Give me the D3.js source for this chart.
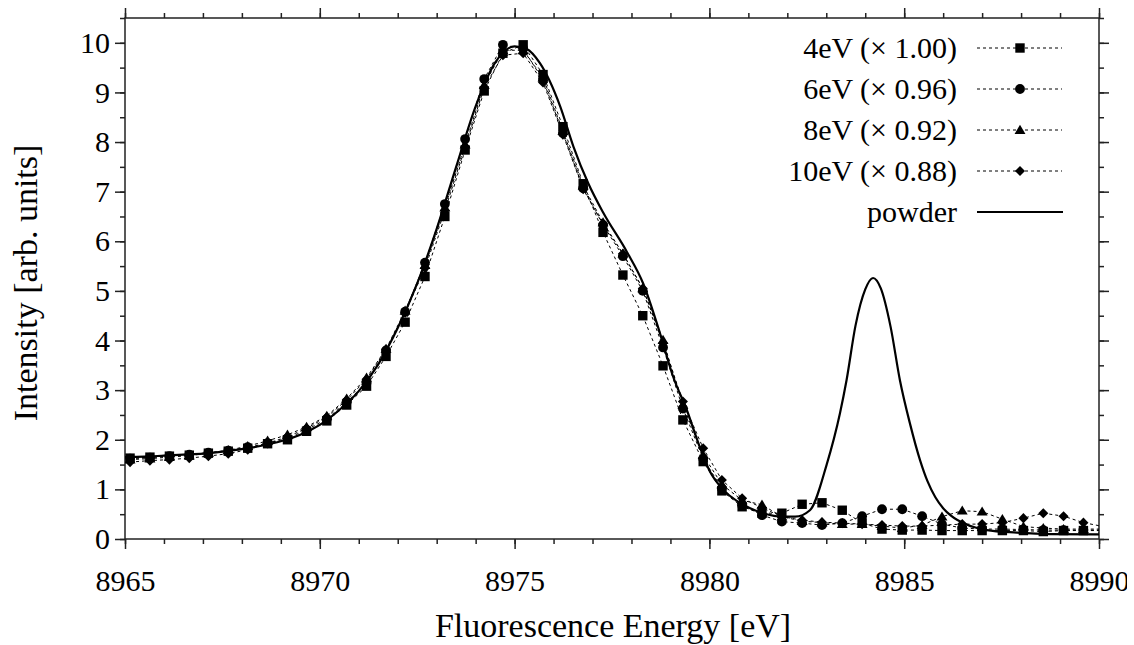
<!DOCTYPE html>
<html>
<head>
<meta charset="utf-8">
<script src="https://cdn.jsdelivr.net/npm/d3@7"></script>
<style>
  body { margin: 0; background: #fff; }
  svg { display: block; }
</style>
</head>
<body>
<svg id="chart" width="1134" height="645"></svg>
<script>
// Measured emission energies (eV), shared by all four excitation series
const energies = [8965.13, 8965.64, 8966.14, 8966.65, 8967.14, 8967.65, 8968.15, 8968.66, 8969.17, 8969.66,
  8970.18, 8970.69, 8971.20, 8971.70, 8972.19, 8972.70, 8973.21, 8973.73, 8974.22, 8974.70,
  8975.22, 8975.73, 8976.24, 8976.76, 8977.27, 8977.78, 8978.29, 8978.81, 8979.32, 8979.84,
  8980.32, 8980.84, 8981.35, 8981.86, 8982.38, 8982.89, 8983.41, 8983.92, 8984.43, 8984.95,
  8985.46, 8985.97, 8986.49, 8987.00, 8987.52, 8988.06, 8988.57, 8989.09, 8989.60, 8990.12];

// Scaled intensities for each excitation energy
const series4eV = [1.63, 1.65, 1.67, 1.69, 1.73, 1.77, 1.83, 1.92, 2.00, 2.17,
  2.38, 2.70, 3.08, 3.68, 4.37, 5.29, 6.50, 7.84, 9.03, 9.79,
  9.96, 9.36, 8.31, 7.16, 6.18, 5.32, 4.50, 3.49, 2.40, 1.56,
  0.97, 0.65, 0.52, 0.52, 0.70, 0.73, 0.58, 0.32, 0.20, 0.18,
  0.18, 0.17, 0.17, 0.17, 0.17, 0.17, 0.15, 0.17, 0.17, 0.17];
const series6eV = [1.62, 1.64, 1.67, 1.70, 1.74, 1.78, 1.85, 1.93, 2.03, 2.20,
  2.42, 2.76, 3.15, 3.80, 4.58, 5.57, 6.75, 8.06, 9.27, 9.96,
  9.88, 9.25, 8.18, 7.07, 6.33, 5.70, 5.00, 3.86, 2.63, 1.62,
  1.02, 0.68, 0.48, 0.35, 0.32, 0.28, 0.32, 0.46, 0.60, 0.60,
  0.46, 0.30, 0.22, 0.20, 0.20, 0.19, 0.18, 0.18, 0.18, 0.18];
const series8eV = [1.60, 1.62, 1.65, 1.68, 1.73, 1.79, 1.87, 1.98, 2.10, 2.26,
  2.48, 2.83, 3.25, 3.83, 4.60, 5.52, 6.68, 7.95, 9.15, 9.85,
  9.85, 9.30, 8.22, 7.12, 6.38, 5.75, 5.05, 4.01, 2.70, 1.69,
  1.10, 0.78, 0.69, 0.45, 0.36, 0.33, 0.30, 0.30, 0.26, 0.22,
  0.28, 0.45, 0.57, 0.55, 0.40, 0.25, 0.22, 0.20, 0.20, 0.20];
const series10eV = [1.55, 1.58, 1.60, 1.63, 1.67, 1.72, 1.80, 1.93, 2.06, 2.23,
  2.46, 2.80, 3.22, 3.82, 4.56, 5.46, 6.62, 7.90, 9.10, 9.75,
  9.79, 9.20, 8.15, 7.05, 6.35, 5.75, 5.05, 3.95, 2.77, 1.83,
  1.19, 0.82, 0.63, 0.45, 0.38, 0.34, 0.32, 0.30, 0.28, 0.26,
  0.26, 0.28, 0.30, 0.30, 0.33, 0.42, 0.52, 0.46, 0.33, 0.25];

// Powder reference spectrum (smooth curve)
const powderEnergy = [8965.0, 8965.5, 8966.0, 8966.5, 8967.0, 8967.5, 8968.0, 8968.5, 8969.0, 8969.5,
  8970.0, 8970.5, 8971.0, 8971.5, 8972.0, 8972.5, 8973.0, 8973.5, 8974.0, 8974.5,
  8975.0, 8975.3, 8975.65, 8976.17, 8976.51, 8976.89, 8977.28, 8977.88, 8978.3, 8978.73,
  8979.07, 8979.42, 8979.75, 8980.0, 8980.36, 8980.87, 8981.38, 8981.9, 8982.2, 8982.58,
  8983.01, 8983.35, 8983.52, 8983.75, 8984.0, 8984.2, 8984.4, 8984.65, 8984.89, 8985.15,
  8985.41, 8985.6, 8985.8, 8986.0, 8986.2, 8986.6, 8987.12, 8987.89, 8988.74, 8990.0];
const powderIntensity = [1.65, 1.66, 1.68, 1.70, 1.72, 1.76, 1.81, 1.88, 1.97, 2.10,
  2.30, 2.60, 2.98, 3.52, 4.25, 5.15, 6.25, 7.50, 8.72, 9.60,
  9.93, 9.88, 9.59, 8.72, 7.91, 7.17, 6.57, 5.79, 5.15, 4.15,
  3.27, 2.60, 1.86, 1.38, 0.99, 0.69, 0.52, 0.45, 0.45, 0.58,
  1.50, 2.53, 3.20, 4.30, 5.03, 5.26, 5.05, 4.28, 3.20, 2.32,
  1.58, 1.16, 0.84, 0.62, 0.47, 0.29, 0.18, 0.13, 0.10, 0.095];

const xMajorTicks = [8965, 8970, 8975, 8980, 8985, 8990];
const yMajorTicks = [0, 1, 2, 3, 4, 5, 6, 7, 8, 9, 10];
const legendLabels = ["4eV (\u00d7 1.00)", "6eV (\u00d7 0.96)", "8eV (\u00d7 0.92)", "10eV (\u00d7 0.88)", "powder"];

const serif = "'Liberation Serif', 'Times New Roman', Times, 'DejaVu Serif', serif";
const svg = d3.select("#chart");
const plotLeft = 125, plotRight = 1099, plotTop = 18, plotBottom = 539;
const x = d3.scaleLinear().domain([8965, 8990]).range([plotLeft, plotRight]);
const y = d3.scaleLinear().domain([0, 10.5]).range([plotBottom, plotTop]);

const xMinor = d3.range(8965, 8991, 1);
const yMinor = d3.range(0, 10.51, 0.5);

const defs = svg.append("defs");
defs.append("clipPath").attr("id", "plotClip")
  .append("rect").attr("x", plotLeft).attr("y", plotTop)
  .attr("width", plotRight - plotLeft).attr("height", plotBottom - plotTop);
defs.append("clipPath").attr("id", "pageClip")
  .append("rect").attr("x", 0).attr("y", 0).attr("width", 1127).attr("height", 645);

const axisColor = "#222";
function styleAxis(g) {
  g.select(".domain").remove();
  g.attr("font-family", serif);
  g.selectAll("line").attr("stroke", axisColor).attr("stroke-width", 1.5);
  g.selectAll("text").style("font-family", serif).style("font-size", "30px").attr("fill", "#000");
}

// Minor ticks
svg.append("g").attr("transform", `translate(0,${plotBottom})`)
  .call(d3.axisBottom(x).tickValues(xMinor).tickSize(5).tickFormat("")).call(styleAxis);
svg.append("g").attr("transform", `translate(0,${plotTop})`)
  .call(d3.axisTop(x).tickValues(xMinor).tickSize(5).tickFormat("")).call(styleAxis);
svg.append("g").attr("transform", `translate(${plotLeft},0)`)
  .call(d3.axisLeft(y).tickValues(yMinor).tickSize(5).tickFormat("")).call(styleAxis);
svg.append("g").attr("transform", `translate(${plotRight},0)`)
  .call(d3.axisRight(y).tickValues(yMinor).tickSize(5).tickFormat("")).call(styleAxis);

// Major ticks with labels
svg.append("g").attr("clip-path", "url(#pageClip)")
  .append("g").attr("transform", `translate(0,${plotBottom})`)
  .call(d3.axisBottom(x).tickValues(xMajorTicks).tickSize(10).tickPadding(21).tickFormat(d3.format("d"))).call(styleAxis);
svg.append("g").attr("transform", `translate(0,${plotTop})`)
  .call(d3.axisTop(x).tickValues(xMajorTicks).tickSize(10).tickFormat("")).call(styleAxis);
svg.append("g").attr("transform", `translate(${plotLeft},0)`)
  .call(d3.axisLeft(y).tickValues(yMajorTicks).tickSize(10).tickPadding(5).tickFormat(d3.format("d"))).call(styleAxis);
svg.append("g").attr("transform", `translate(${plotRight},0)`)
  .call(d3.axisRight(y).tickValues(yMajorTicks).tickSize(10).tickFormat("")).call(styleAxis);

// Frame
svg.append("rect").attr("x", plotLeft).attr("y", plotTop)
  .attr("width", plotRight - plotLeft).attr("height", plotBottom - plotTop)
  .attr("fill", "none").attr("stroke", axisColor).attr("stroke-width", 1.5);

// Axis titles
svg.append("text").attr("x", 613).attr("y", 637).attr("text-anchor", "middle")
  .style("font-family", serif).style("font-size", "34px").text("Fluorescence Energy [eV]");
svg.append("text").attr("transform", "translate(37,283) rotate(-90)").attr("text-anchor", "middle")
  .style("font-family", serif).style("font-size", "34px").text("Intensity [arb. units]");

const plot = svg.append("g").attr("clip-path", "url(#plotClip)");

// Powder curve
const powderPts = powderEnergy.map((e, i) => [e, powderIntensity[i]]);
plot.append("path").datum(powderPts)
  .attr("fill", "none").attr("stroke", "#000").attr("stroke-width", 2.2)
  .attr("d", d3.line().x(d => x(d[0])).y(d => y(d[1])).curve(d3.curveMonotoneX));

// Marker shapes
const shapes = {
  square: s => `M${-s},${-s}H${s}V${s}H${-s}Z`,
  circle: s => `M${s},0A${s},${s} 0 1,1 ${-s},0A${s},${s} 0 1,1 ${s},0Z`,
  triangle: s => `M0,${-s}L${s * 1.05},${s * 0.75}L${-s * 1.05},${s * 0.75}Z`,
  diamond: s => `M0,${-s * 1.05}L${s * 1.05},0L0,${s * 1.05}L${-s * 1.05},0Z`
};
const seriesList = [
  { values: series4eV, shape: "square", size: 4.7 },
  { values: series6eV, shape: "circle", size: 4.9 },
  { values: series8eV, shape: "triangle", size: 5.2 },
  { values: series10eV, shape: "diamond", size: 4.8 }
];

const dashLine = d3.line().x(d => x(d[0])).y(d => y(d[1]));
seriesList.forEach(s => {
  const pts = energies.map((e, i) => [e, s.values[i]]);
  plot.append("path").datum(pts)
    .attr("fill", "none").attr("stroke", "#000").attr("stroke-width", 1)
    .attr("stroke-dasharray", "3,3").attr("d", dashLine);
});
seriesList.forEach(s => {
  const pts = energies.map((e, i) => [e, s.values[i]]);
  plot.append("g").selectAll("path").data(pts).join("path")
    .attr("transform", d => `translate(${x(d[0])},${y(d[1])})`)
    .attr("d", shapes[s.shape](s.size)).attr("fill", "#000");
});

// Legend
const legend = svg.append("g");
const rowY = i => 48 + i * 41;
legendLabels.forEach((label, i) => {
  legend.append("text").attr("x", 957).attr("y", rowY(i) + 10).attr("text-anchor", "end")
    .style("font-family", serif).style("font-size", "30px").text(label);
  if (i < 4) {
    legend.append("line").attr("x1", 977).attr("x2", 1062).attr("y1", rowY(i)).attr("y2", rowY(i))
      .attr("stroke", "#000").attr("stroke-width", 1).attr("stroke-dasharray", "3,3");
    legend.append("path").attr("transform", `translate(1020,${rowY(i)})`)
      .attr("d", shapes[seriesList[i].shape](seriesList[i].size)).attr("fill", "#000");
  } else {
    legend.append("line").attr("x1", 977).attr("x2", 1063).attr("y1", rowY(i)).attr("y2", rowY(i))
      .attr("stroke", "#000").attr("stroke-width", 2.2);
  }
});
</script>
</body>
</html>
